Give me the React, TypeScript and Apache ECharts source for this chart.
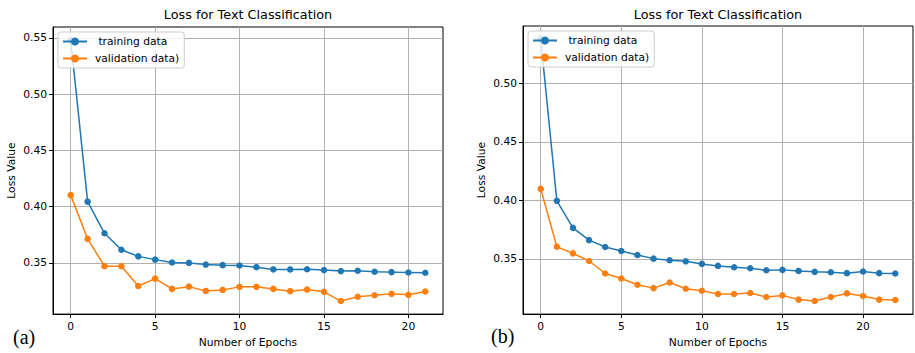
import React, { useEffect, useRef } from "react";
import * as echarts from "echarts";

const titleText = "Loss for Text Classification";
const xAxisName = "Number of Epochs";
const yAxisName = "Loss Value";
const seriesNames = [" training data", "validation data)"];
const panelLabels = ["(a)", "(b)"];

const epochsA = [0, 1, 2, 3, 4, 5, 6, 7, 8, 9, 10, 11, 12, 13, 14, 15, 16, 17, 18, 19, 20, 21];
const trainA = [0.548, 0.4044, 0.3763, 0.3617, 0.3558, 0.3529, 0.3503, 0.35, 0.3485, 0.348, 0.3477, 0.3462, 0.3442, 0.3442, 0.3444, 0.3436, 0.3427, 0.343, 0.3421, 0.3418, 0.3415, 0.3412];
const valA = [0.4102, 0.3713, 0.3471, 0.3471, 0.3295, 0.336, 0.3269, 0.3289, 0.3251, 0.326, 0.3287, 0.3287, 0.3269, 0.3249, 0.3263, 0.3243, 0.3161, 0.3199, 0.3213, 0.3225, 0.3216, 0.3246];

const epochsB = [0, 1, 2, 3, 4, 5, 6, 7, 8, 9, 10, 11, 12, 13, 14, 15, 16, 17, 18, 19, 20, 21, 22];
const trainB = [0.5379, 0.3997, 0.3766, 0.3661, 0.3602, 0.3568, 0.3534, 0.3503, 0.3489, 0.348, 0.3458, 0.3441, 0.3429, 0.3421, 0.3404, 0.3407, 0.3398, 0.339, 0.3387, 0.3379, 0.3393, 0.3379, 0.3376];
const valB = [0.4099, 0.3605, 0.3548, 0.3483, 0.3376, 0.3333, 0.328, 0.3251, 0.3299, 0.3246, 0.3229, 0.3201, 0.3201, 0.3209, 0.3175, 0.3189, 0.3153, 0.3141, 0.3175, 0.3206, 0.3184, 0.3153, 0.315];

const COLORS = ["#1f77b4", "#ff7f0e"];
const FONT = "DejaVu Sans";
const TXT = "#000";

function pad(vals: number[]) {
  const lo = Math.min(...vals);
  const hi = Math.max(...vals);
  const m = (hi - lo) * 0.05;
  return [lo - m, hi + m];
}

const isMult = (v: number, step: number) => Math.abs(v / step - Math.round(v / step)) < 1e-6;

export default function App() {
  const ref = useRef<HTMLDivElement>(null);
  useEffect(() => {
    if (!ref.current) return;
    const chart = echarts.init(ref.current, undefined, { renderer: "svg" });
    const panels = [
      { ep: epochsA, tr: trainA, va: valA, grid: { left: 53, top: 27, width: 390, height: 290 } },
      { ep: epochsB, tr: trainB, va: valB, grid: { left: 523, top: 26, width: 390, height: 290 } },
    ];
    const xAxes: any[] = [];
    const yAxes: any[] = [];
    const series: any[] = [];
    const legends: any[] = [];
    const titles: any[] = [];
    const graphics: any[] = [];
    panels.forEach((p, i) => {
      const [xmin, xmax] = pad(p.ep);
      const [ymin, ymax] = pad([...p.tr, ...p.va]);
      xAxes.push({
        type: "value",
        gridIndex: i,
        min: xmin,
        max: xmax,
        splitNumber: 5,
        name: xAxisName,
        nameLocation: "middle",
        nameGap: 22,
        nameTextStyle: { fontFamily: FONT, fontSize: 10.7, color: TXT },
        axisLine: { show: true, onZero: false, lineStyle: { color: "#000", width: 1 } },
        axisTick: { show: true, length: 4, lineStyle: { color: "#000" } },
        axisLabel: {
          fontFamily: FONT,
          fontSize: 10.7,
          color: TXT,
          margin: 7,
          showMinLabel: false,
          showMaxLabel: false,
          formatter: (v: number) => (isMult(v, 5) ? String(Math.round(v)) : ""),
        },
        splitLine: { show: true, showMinLine: false, showMaxLine: false, lineStyle: { color: "#b0b0b0", width: 1 } },
      });
      yAxes.push({
        type: "value",
        gridIndex: i,
        min: ymin,
        max: ymax,
        splitNumber: 5,
        name: yAxisName,
        nameLocation: "middle",
        nameGap: 36,
        nameTextStyle: { fontFamily: FONT, fontSize: 10.7, color: TXT },
        axisLine: { show: true, onZero: false, lineStyle: { color: "#000", width: 1 } },
        axisTick: { show: true, length: 4, lineStyle: { color: "#000" } },
        axisLabel: {
          fontFamily: FONT,
          fontSize: 10.7,
          color: TXT,
          margin: 6,
          showMinLabel: false,
          showMaxLabel: false,
          formatter: (v: number) => (isMult(v, 0.05) ? v.toFixed(2) : ""),
        },
        splitLine: { show: true, showMinLine: false, showMaxLine: false, lineStyle: { color: "#b0b0b0", width: 1 } },
      });
      [p.tr, p.va].forEach((vals, k) => {
        series.push({
          type: "line",
          name: seriesNames[k],
          xAxisIndex: i,
          yAxisIndex: i,
          data: p.ep.map((e, j) => [e, vals[j]]),
          symbol: "circle",
          symbolSize: 6.5,
          showSymbol: true,
          color: COLORS[k],
          lineStyle: { width: 1.5, color: COLORS[k] },
          itemStyle: { color: COLORS[k] },
          emphasis: { disabled: true },
        });
      });
      legends.push({
        orient: "vertical",
        left: p.grid.left + 5,
        top: p.grid.top + 5,
        padding: [4, 5, 4, 4],
        itemGap: 6,
        itemWidth: 24,
        itemHeight: 10,
        backgroundColor: "rgba(255,255,255,0.8)",
        borderColor: "#cccccc",
        borderWidth: 1,
        borderRadius: 3,
        selectedMode: false,
        data: seriesNames,
        textStyle: { fontFamily: FONT, fontSize: 10.7, color: TXT, padding: [0, 0, 0, 3] },
      });
      titles.push({
        text: titleText,
        left: p.grid.left + p.grid.width / 2,
        textAlign: "center",
        top: 8,
        padding: 0,
        textStyle: { fontFamily: FONT, fontSize: 12.8, fontWeight: "normal", color: TXT },
      });
    });
    graphics.push(
      { type: "text", x: 13, y: 337, style: { text: panelLabels[0], font: '20px "Liberation Serif"', fill: "#000", textVerticalAlign: "middle" } },
      { type: "text", x: 491, y: 336, style: { text: panelLabels[1], font: '20px "Liberation Serif"', fill: "#000", textVerticalAlign: "middle" } }
    );
    chart.setOption({
      animation: false,
      backgroundColor: "#fff",
      title: titles,
      grid: panels.map((p) => ({ ...p.grid, show: true, borderColor: "#000", borderWidth: 1, backgroundColor: "transparent" })),
      xAxis: xAxes,
      yAxis: yAxes,
      legend: legends,
      series,
      graphic: graphics,
    });
    return () => chart.dispose();
  }, []);
  return <div ref={ref} style={{ position: "fixed", left: 0, top: 0, width: 915, height: 353 }} />;
}
